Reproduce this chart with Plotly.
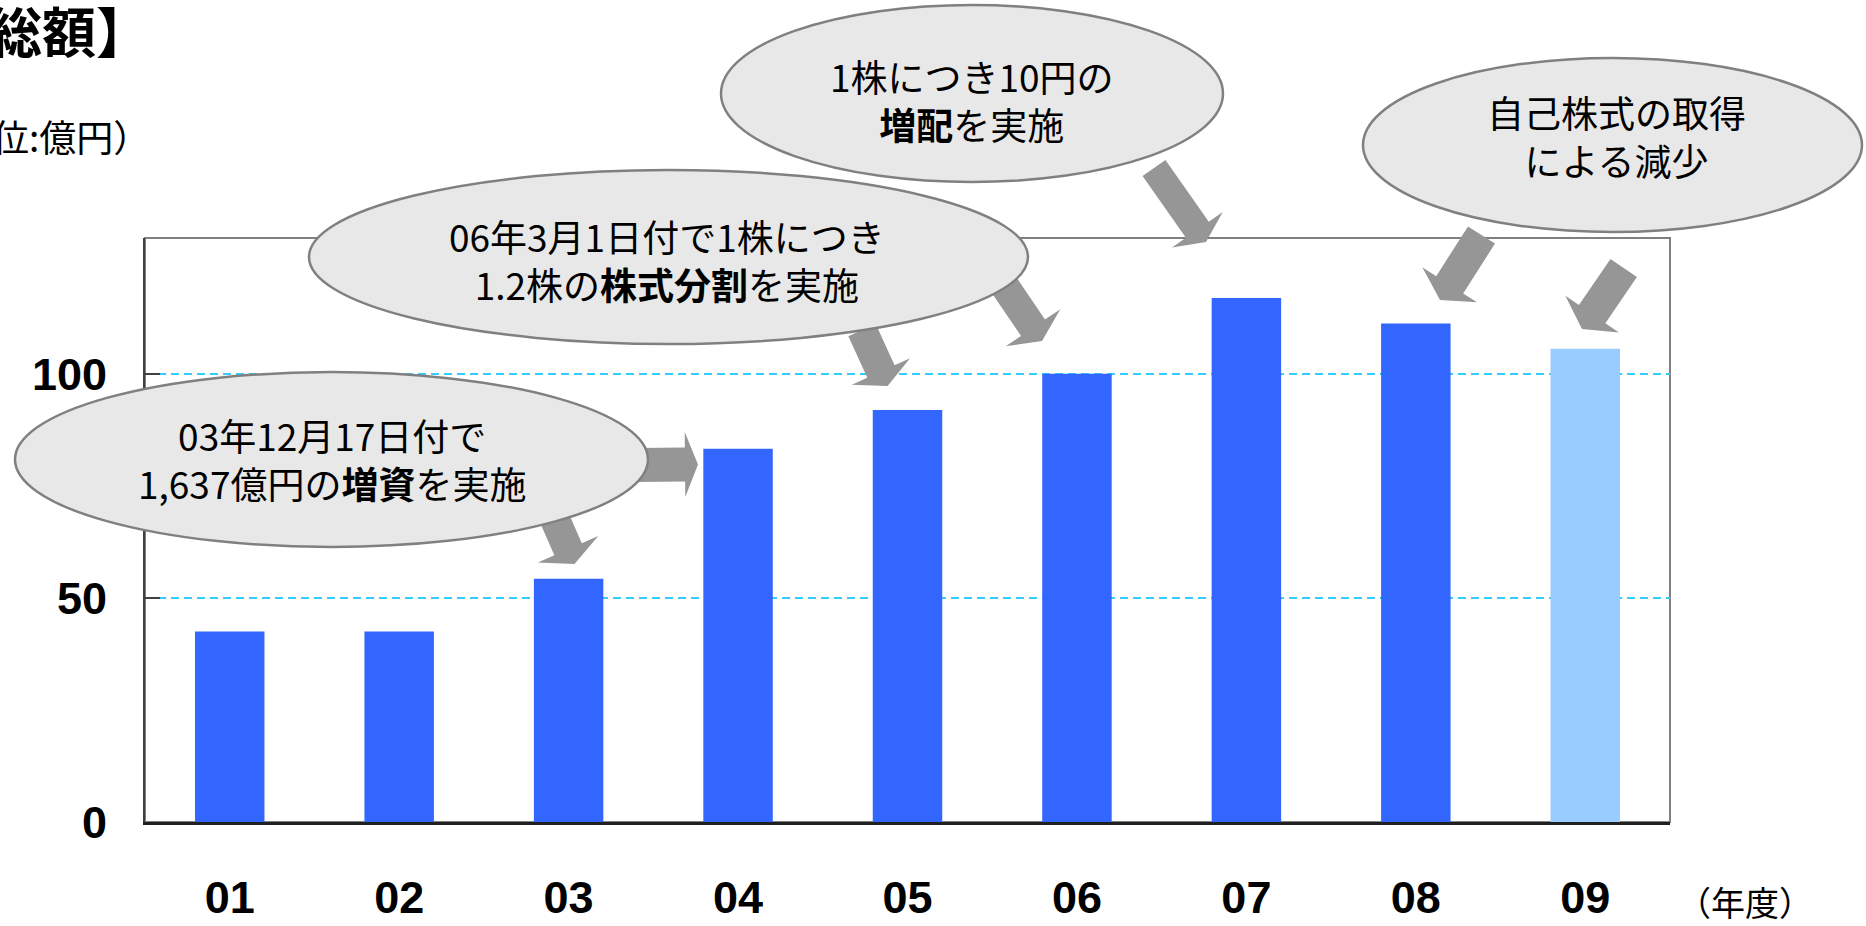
import math
import plotly.graph_objects as go

# ---- data ----
years = ["01", "02", "03", "04", "05", "06", "07", "08", "09"]
values = [42.5, 42.5, 54.3, 83.3, 91.9, 100.0, 116.9, 111.2, 105.6]
y_ticks = [0, 50, 100]
notes = [
    "03年12月17日付で<br>1,637億円の<b>増資</b>を実施",
    "06年3月1日付で1株につき<br>1.2株の<b>株式分割</b>を実施",
    "1株につき10円の<br><b>増配</b>を実施",
    "自己株式の取得<br>による減少",
]
title_text = "総額】"
unit_text = "（単位:億円）"
xunit_text = "（年度）"

# ---- layout geometry (pixels) ----
W, H = 1866, 926
L, R, T, B = 145, 1670, 238, 822


def px(x):
    return (x - L) / (R - L)


def py(y):
    return (B - y) / (B - T)


bar_colors = ["#3366FF"] * (len(years) - 1) + ["#99CCFF"]

fig = go.Figure()
fig.add_trace(go.Bar(x=years, y=values, marker=dict(color=bar_colors, line=dict(width=0)),
                     width=0.41, hoverinfo="x+y"))

CJK = "Noto Sans CJK JP"
NUM = "Liberation Sans, Arial"

shapes = []
# frame (top/right gray)
shapes.append(dict(type="rect", xref="paper", yref="paper", x0=0, x1=1, y0=0, y1=1,
                   line=dict(color="#808080", width=2), layer="below"))


def arrow(tail, tip, w, hw, hl):
    tx, ty = tail
    ex, ey = tip
    dx, dy = ex - tx, ey - ty
    n = math.hypot(dx, dy)
    dx, dy = dx / n, dy / n
    nx, ny = -dy, dx
    bx, by = ex - dx * hl, ey - dy * hl
    pts = [
        (tx + nx * w / 2, ty + ny * w / 2),
        (bx + nx * w / 2, by + ny * w / 2),
        (bx + nx * hw / 2, by + ny * hw / 2),
        (ex, ey),
        (bx - nx * hw / 2, by - ny * hw / 2),
        (bx - nx * w / 2, by - ny * w / 2),
        (tx - nx * w / 2, ty - ny * w / 2),
    ]
    path = "M " + " L ".join(f"{px(x):.5f},{py(y):.5f}" for x, y in pts) + " Z"
    return dict(type="path", xref="paper", yref="paper", path=path,
                fillcolor="#969696", line=dict(width=0), layer="above")


arrows = [
    ((636, 465), (698, 464.5), 34, 65, 13),
    ((550, 508), (574.5, 564), 30, 66, 16),
    ((862, 330), (887.6, 386), 30, 64, 16),
    ((1004, 285), (1042, 341), 29, 66, 16),
    ((1154, 168), (1206, 242), 28, 62, 15),
    ((1481.5, 235), (1440, 300), 32, 65, 18),
    ((1623.7, 268), (1582, 329), 32, 65, 18),
]
for a in arrows:
    shapes.append(arrow(*a))

ellipses = [
    (15, 648, 372, 547),
    (309, 1028, 170, 344),
    (721, 1223, 5, 182),
    (1363, 1862, 58, 232),
]
for x0, x1, y0, y1 in ellipses:
    shapes.append(dict(type="circle", xref="paper", yref="paper",
                       x0=px(x0), x1=px(x1), y0=py(y1), y1=py(y0),
                       fillcolor="#E8E8E8", line=dict(color="#808080", width=2.5),
                       layer="above"))

annotations = []
note_pos = [(332, 459), (667, 260), (972, 100), (1616, 136)]
for txt, (cx, cy) in zip(notes, note_pos):
    annotations.append(dict(text=txt, xref="paper", yref="paper", x=px(cx), y=py(cy),
                            xanchor="center", yanchor="middle", showarrow=False,
                            font=dict(family=CJK, size=37, color="#000000")))

annotations.append(dict(text="<b>" + title_text + "</b>", xref="paper", yref="paper",
                        x=px(152), y=py(30), xanchor="right", yanchor="middle",
                        showarrow=False, font=dict(family=CJK, size=54, color="#000000")))
annotations.append(dict(text=unit_text, xref="paper", yref="paper",
                        x=px(152), y=py(136), xanchor="right", yanchor="middle",
                        showarrow=False, font=dict(family=CJK, size=37, color="#000000")))
annotations.append(dict(text=xunit_text, xref="paper", yref="paper",
                        x=px(1745), y=py(901), xanchor="center", yanchor="middle",
                        showarrow=False, font=dict(family=CJK, size=34, color="#000000")))

fig.update_layout(
    width=W, height=H,
    margin=dict(l=L, r=W - R, t=T, b=H - B, pad=0, autoexpand=False),
    paper_bgcolor="white", plot_bgcolor="white",
    showlegend=False,
    bargap=0.59,
    shapes=shapes,
    annotations=annotations,
    xaxis=dict(type="category", categoryorder="array", categoryarray=years,
               automargin=False,
               showline=True, linecolor="#202020", linewidth=3,
               ticks="", showgrid=False, ticklabelstandoff=34,
               tickfont=dict(family=NUM, size=45, color="#000000", weight="bold")),
    yaxis=dict(range=[0, 130.3], tickvals=y_ticks, ticktext=[str(v) for v in y_ticks],
               automargin=False,
               showline=True, linecolor="#404040", linewidth=2,
               ticks="inside", ticklen=15, tickwidth=2, tickcolor="#404040",
               showgrid=True, gridcolor="#33CCFF", gridwidth=1.5, griddash="8px,5px",
               zeroline=False, ticklabelstandoff=27,
               tickfont=dict(family=NUM, size=45, color="#000000", weight="bold")),
)

fig.write_html("out.html")
